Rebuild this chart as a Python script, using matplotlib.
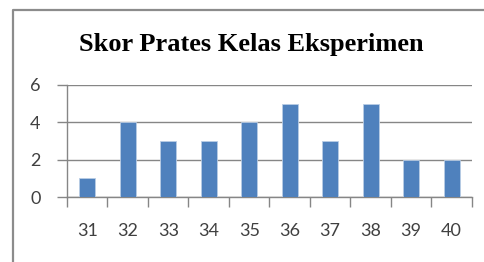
import matplotlib.pyplot as plt
from matplotlib.lines import Line2D

scores = ["31", "32", "33", "34", "35", "36", "37", "38", "39", "40"]
counts = [1, 4, 3, 3, 4, 5, 3, 5, 2, 2]
y_ticks = [0, 2, 4, 6]

fig = plt.figure(figsize=(4.84, 2.62), dpi=100)
ax = fig.add_axes([0.1384, 0.248, 0.8366, 0.4276])

x = list(range(len(scores)))
ax.bar(x, counts, width=0.4, color="#4F81BD", edgecolor="#B9CDE5", linewidth=0.6, zorder=3)

ax.set_xlim(-0.5, len(scores) - 0.5)
ax.set_ylim(0, 6)
ax.set_yticks(y_ticks)
ax.set_xticks(x)
ax.set_xticklabels(scores)
ax.set_xticks([i - 0.5 for i in range(len(scores) + 1)], minor=True)

ax.grid(axis="y", color="#868686", linewidth=1, zorder=0)
for s in ["top", "right"]:
    ax.spines[s].set_visible(False)
for s in ["left", "bottom"]:
    ax.spines[s].set_color("#868686")
    ax.spines[s].set_linewidth(1)

ax.tick_params(axis="x", which="major", length=0, pad=19, labelsize=13, labelcolor="#404040")
ax.tick_params(axis="x", which="minor", length=7, color="#868686", width=1)
ax.tick_params(axis="y", length=7, color="#868686", width=1, pad=12, labelsize=13, labelcolor="#404040")
for lab in ax.get_xticklabels() + ax.get_yticklabels():
    lab.set_family("Lato")

fig.text(0.52, 0.83, "Skor Prates Kelas Eksperimen", ha="center", va="center",
         family="Liberation Serif", fontweight="bold", fontsize=19)

# outer chart border (left and top only visible)
fig.add_artist(Line2D([0.027, 0.027, 1.0], [0.0, 0.96, 0.96], transform=fig.transFigure,
                      color="#8C8C8C", linewidth=1.6))

fig.savefig("out.png", dpi=100)
